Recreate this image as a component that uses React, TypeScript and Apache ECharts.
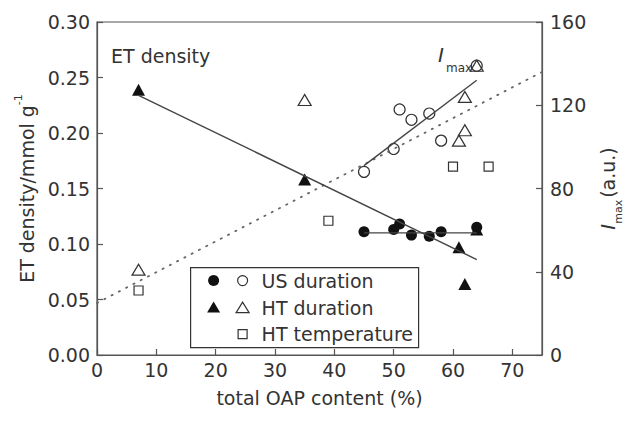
import React, { useEffect, useRef } from "react";
import * as echarts from "echarts";

// ET density (left axis)
const usDurationET: [number, number][] = [
  [45, 0.111], [50, 0.113], [51, 0.118], [53, 0.108], [56, 0.107], [58, 0.111], [64, 0.115],
];
const htDurationET: [number, number][] = [
  [7, 0.239], [35, 0.158], [61, 0.097], [62, 0.064], [64, 0.113],
];
// Imax (right axis)
const usDurationImax: [number, number][] = [
  [45, 88], [50, 99], [51, 118], [53, 113], [56, 116], [58, 103], [64, 139],
];
const htDurationImax: [number, number][] = [
  [7, 41], [35, 122.5], [61, 103], [62, 108], [62, 124], [64, 139],
];
const htTemperatureImax: [number, number][] = [
  [7, 31], [39, 64.5], [60, 90.5], [66, 90.5],
];
// fitted lines
const usETFit: [number, number][] = [[45, 0.11], [64, 0.11]];
const htETFit: [number, number][] = [[7, 0.234], [64, 0.086]];
const usImaxFit: [number, number][] = [[45, 91], [64, 132]];
const allImaxFit: [number, number][] = [[0, 25], [75, 136]];

const legendNames = ["US duration", "HT duration", "HT temperature"];

const FONT = "'DejaVu Sans', 'Liberation Sans', Arial, sans-serif";
const TXT = "#333";
const AX = "#555";
const FS = 19;

export default function App() {
  const ref = useRef<HTMLDivElement>(null);
  useEffect(() => {
    if (!ref.current) return;
    const chart = echarts.init(ref.current, undefined, { renderer: "svg" });
    const open = { color: "none", borderColor: "#333", borderWidth: 1.2, opacity: 1 };
    const filled = { color: "#111", opacity: 1 };
    chart.setOption({
      animation: false,
      backgroundColor: "#fff",
      textStyle: { fontFamily: FONT },
      grid: {
        left: 97, right: 77, top: 22, bottom: 68,
        show: true, borderColor: AX, borderWidth: 1.2, backgroundColor: "transparent",
      },
      xAxis: {
        type: "value", min: 0, max: 75, interval: 10,
        axisLine: { show: true, lineStyle: { color: AX, width: 1.2 } },
        axisTick: { inside: true, length: 6, lineStyle: { color: AX, width: 1.2 } },
        axisLabel: { color: TXT, fontSize: FS, margin: 5, showMaxLabel: false, fontFamily: FONT },
        splitLine: { show: false },
        name: "total OAP content (%)",
        nameLocation: "middle", nameGap: 33,
        nameTextStyle: { color: TXT, fontSize: FS, fontFamily: FONT },
      },
      yAxis: [
        {
          type: "value", min: 0, max: 0.3, interval: 0.05,
          axisLine: { show: true, lineStyle: { color: AX, width: 1.2 } },
          axisTick: { inside: true, length: 6, lineStyle: { color: AX, width: 1.2 } },
          axisLabel: { color: TXT, fontSize: FS, margin: 7, formatter: (v: number) => v.toFixed(2), fontFamily: FONT },
          splitLine: { show: false },
          name: "{a|ET density/mmol g}{s|-1}",
          nameLocation: "middle", nameGap: 56, nameRotate: 90,
          nameTextStyle: {
            color: TXT, fontFamily: FONT,
            rich: {
              a: { fontSize: FS, color: TXT, fontFamily: FONT, lineHeight: 24, verticalAlign: "bottom" },
              s: { fontSize: 11, color: TXT, fontFamily: FONT, lineHeight: 24, verticalAlign: "top" },
            },
          },
        },
        {
          type: "value", min: 0, max: 160, interval: 40,
          position: "right",
          axisLine: { show: true, lineStyle: { color: AX, width: 1.2 } },
          axisTick: { inside: true, length: 6, lineStyle: { color: AX, width: 1.2 } },
          axisLabel: { color: TXT, fontSize: FS, margin: 8, fontFamily: FONT },
          splitLine: { show: false },
          name: "{i|I}{m|max}{a|(a.u.)}",
          nameLocation: "middle", nameGap: 56, nameRotate: 90,
          nameTextStyle: {
            color: TXT, fontFamily: FONT,
            rich: {
              i: { fontSize: 20, fontStyle: "italic", color: TXT, fontFamily: FONT, lineHeight: 26, verticalAlign: "top" },
              m: { fontSize: 11, color: TXT, fontFamily: FONT, lineHeight: 26, verticalAlign: "bottom" },
              a: { fontSize: FS, color: TXT, fontFamily: FONT, lineHeight: 26, verticalAlign: "top", padding: [0, 0, 0, 2] },
            },
          },
        },
      ],
      series: [
        {
          type: "line", data: allImaxFit, yAxisIndex: 1, symbol: "none", silent: true,
          lineStyle: { color: "#666", width: 1.8, type: [1.2, 7], cap: "round" },
        },
        {
          type: "line", data: usETFit, yAxisIndex: 0, symbol: "none",
          lineStyle: { color: "#444", width: 1.4 },
        },
        {
          type: "line", data: htETFit, yAxisIndex: 0, symbol: "none",
          lineStyle: { color: "#444", width: 1.4 },
        },
        {
          type: "line", data: usImaxFit, yAxisIndex: 1, symbol: "none",
          lineStyle: { color: "#444", width: 1.4 },
        },
        {
          name: "US duration ET", type: "scatter", data: usDurationET, yAxisIndex: 0,
          symbol: "circle", symbolSize: 11, itemStyle: filled,
        },
        {
          name: "HT duration ET", type: "scatter", data: htDurationET, yAxisIndex: 0,
          symbol: "triangle", symbolSize: [13, 12], itemStyle: filled,
        },
        {
          name: "US duration Imax", type: "scatter", data: usDurationImax, yAxisIndex: 1,
          symbol: "circle", symbolSize: 11, itemStyle: open,
        },
        {
          name: "HT duration Imax", type: "scatter", data: htDurationImax, yAxisIndex: 1,
          symbol: "triangle", symbolSize: [13, 11], itemStyle: open,
        },
        {
          name: "HT temperature Imax", type: "scatter", data: htTemperatureImax, yAxisIndex: 1,
          symbol: "rect", symbolSize: 9, itemStyle: open,
        },
      ],
      graphic: [
        {
          type: "text", left: 111, top: 46,
          style: { text: "ET density", fontSize: FS, fill: TXT, fontFamily: FONT },
        },
        {
          type: "text", left: 438, top: 45,
          style: { text: "I", fontSize: 20, fontStyle: "italic", fill: TXT, fontFamily: FONT },
        },
        {
          type: "text", left: 446, top: 62,
          style: { text: "max", fontSize: 12, fill: TXT, fontFamily: FONT },
        },
        {
          type: "group", left: 190, top: 267,
          children: [
            { type: "rect", shape: { x: 0, y: 0, width: 228, height: 80 }, style: { fill: "#fff", stroke: "#333", lineWidth: 1.2 } },
            { type: "circle", shape: { cx: 23, cy: 13, r: 5.5 }, style: { fill: "#111" } },
            { type: "circle", shape: { cx: 52, cy: 13, r: 5 }, style: { fill: "none", stroke: "#333", lineWidth: 1.2 } },
            { type: "polygon", shape: { points: [[23, 34], [16.5, 45], [29.5, 45]] }, style: { fill: "#111" } },
            { type: "polygon", shape: { points: [[52, 34.5], [45.5, 45], [58.5, 45]] }, style: { fill: "none", stroke: "#333", lineWidth: 1.2 } },
            { type: "rect", shape: { x: 47.5, y: 62, width: 9, height: 9 }, style: { fill: "none", stroke: "#333", lineWidth: 1.2 } },
            { type: "text", x: 71, y: 13, style: { text: legendNames[0], fontSize: FS, fill: TXT, fontFamily: FONT, verticalAlign: "middle" } },
            { type: "text", x: 71, y: 40, style: { text: legendNames[1], fontSize: FS, fill: TXT, fontFamily: FONT, verticalAlign: "middle" } },
            { type: "text", x: 71, y: 66, style: { text: legendNames[2], fontSize: FS, fill: TXT, fontFamily: FONT, verticalAlign: "middle" } },
          ],
        },
      ],
    });
    return () => chart.dispose();
  }, []);
  return <div ref={ref} style={{ width: 632, height: 423, position: "absolute", left: 0, top: 0 }} />;
}
